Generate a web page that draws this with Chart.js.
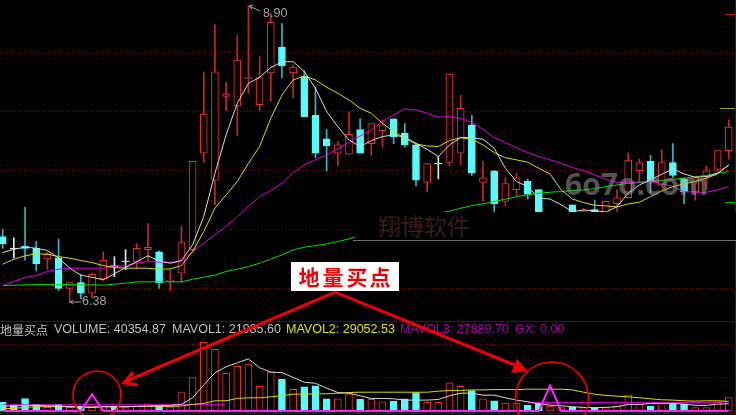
<!DOCTYPE html>
<html>
<head>
<meta charset="utf-8">
<script src="https://cdn.jsdelivr.net/npm/chart.js@4"></script>
<style>
  html, body { margin: 0; background: #000; }
  canvas { display: block; }
</style>
</head>
<body>
<canvas id="myChart" width="736" height="415"></canvas>
<script>
// price candles
const openP = [6.94,6.84,6.86,6.84,6.75,6.76,6.50,6.55,6.46,6.58,6.69,6.73,6.73,6.83,6.81,6.56,6.63,6.83,7.65,7.42,8.13,8.05,8.28,8.06,8.33,8.55,8.33,8.30,7.97,7.77,7.65,7.64,7.85,7.73,7.84,7.94,7.82,7.72,7.40,7.56,7.57,7.65,7.89,7.40,7.50,7.24,7.34,7.41,7.34,7.03,7.04,7.21,7.07,7.17,7.08,7.22,7.27,7.50,7.58,7.38,7.57,7.43,7.32,7.45,7.51,7.67];
const closeP = [6.88,6.84,6.84,6.71,6.79,6.50,6.55,6.46,6.62,6.74,6.69,6.73,6.84,6.85,6.55,6.57,6.89,7.58,7.98,8.34,8.15,8.44,8.29,8.29,8.76,8.39,8.38,7.96,7.65,7.71,7.72,7.81,7.65,7.90,7.89,7.79,7.72,7.42,7.56,7.56,8.32,8.03,7.48,7.44,7.22,7.39,7.44,7.30,7.05,7.07,7.08,7.05,7.16,7.08,7.24,7.27,7.59,7.57,7.41,7.57,7.46,7.32,7.44,7.50,7.67,7.87];
const highP = [7.00,6.93,7.19,6.90,6.81,6.92,6.55,6.62,6.63,6.81,6.77,6.83,6.88,7.05,6.82,6.66,7.03,7.58,8.34,8.74,8.25,8.65,8.90,8.47,8.84,8.75,8.40,8.35,8.21,7.85,7.75,8.00,7.94,7.90,7.93,7.94,7.90,7.73,7.56,7.62,8.32,8.14,7.97,7.58,7.50,7.44,7.48,7.43,7.34,7.11,7.12,7.21,7.18,7.25,7.24,7.34,7.65,7.60,7.63,7.68,7.73,7.44,7.44,7.54,7.67,7.93];
const lowP = [6.84,6.76,6.74,6.65,6.66,6.48,6.38,6.41,6.42,6.57,6.60,6.66,6.67,6.73,6.50,6.48,6.55,6.81,7.57,7.21,8.01,7.80,8.16,8.01,8.09,8.29,8.12,7.96,7.61,7.50,7.54,7.64,7.65,7.63,7.70,7.73,7.70,7.37,7.32,7.43,7.54,7.55,7.46,7.24,7.11,7.20,7.29,7.26,7.03,6.97,6.98,7.00,7.01,7.05,7.05,7.14,7.27,7.40,7.31,7.37,7.44,7.22,7.25,7.34,7.49,7.60];

// price moving averages
const ma1 = [6.805,6.833,6.850,6.842,6.822,6.757,6.672,6.612,6.595,6.573,6.624,6.678,6.728,6.777,6.734,6.714,6.737,6.870,7.110,7.478,7.804,8.073,8.242,8.293,8.376,8.424,8.426,8.342,8.200,8.002,7.875,7.761,7.705,7.756,7.790,7.804,7.784,7.733,7.682,7.620,7.719,7.781,7.781,7.767,7.691,7.521,7.408,7.365,7.266,7.260,7.210,7.153,7.167,7.159,7.150,7.195,7.309,7.379,7.422,7.470,7.515,7.473,7.444,7.450,7.478,7.549];
const ma2 = [6.706,6.748,6.777,6.794,6.791,6.771,6.757,6.737,6.720,6.694,6.678,6.672,6.672,6.672,6.663,6.666,6.694,6.813,6.983,7.181,7.294,7.408,7.563,7.705,7.945,8.143,8.271,8.305,8.271,8.209,8.158,8.101,8.030,7.988,7.903,7.832,7.776,7.727,7.710,7.705,7.756,7.781,7.767,7.719,7.654,7.611,7.592,7.572,7.521,7.473,7.337,7.260,7.229,7.207,7.201,7.193,7.218,7.232,7.280,7.328,7.365,7.388,7.408,7.436,7.473,7.549];
const ma3 = [6.525,6.559,6.593,6.610,6.644,6.663,6.672,6.672,6.672,6.672,6.686,6.694,6.714,6.728,6.723,6.723,6.728,6.813,6.884,6.955,7.026,7.110,7.195,7.280,7.331,7.393,7.484,7.549,7.592,7.634,7.685,7.739,7.795,7.846,7.917,7.974,8.025,8.016,7.988,7.954,7.960,7.945,7.909,7.852,7.781,7.739,7.696,7.654,7.620,7.592,7.563,7.527,7.501,7.464,7.427,7.399,7.399,7.405,7.405,7.393,7.365,7.323,7.317,7.317,7.337,7.365];
const ma4 = [6.525,6.528,6.530,6.533,6.533,6.533,6.533,6.530,6.530,6.528,6.536,6.544,6.556,6.556,6.556,6.556,6.556,6.578,6.595,6.612,6.644,6.663,6.686,6.714,6.748,6.785,6.827,6.850,6.864,6.878,6.898,6.921,6.946,6.983,7.011,7.040,7.068,7.096,7.116,7.139,7.156,7.181,7.204,7.218,7.238,7.258,7.280,7.294,7.309,7.317,7.323,7.331,7.337,7.348,7.365,7.379,7.393,7.399,7.408,7.416,7.427,7.436,7.450,7.459,7.478,7.493];

// volume panel
const volume = [26000,18000,38000,20000,11000,20000,11000,15000,11000,15000,13000,10000,15000,22000,15000,13000,56000,101000,208000,187000,114000,135000,142000,75000,118000,96000,66000,73000,76000,37000,37000,52000,35000,35000,28000,30000,37000,56000,26000,26000,85000,75000,62000,37000,31000,24000,24000,17000,25000,14000,10000,13000,10000,10000,10000,14000,49000,20000,15000,23000,23000,20000,10000,10000,26000,40354.87];
const mavol1 = [15000,15000,17000,17000,16000,15000,13000,12000,11000,13000,13000,13000,14000,15000,16000,17000,20000,40000,79000,116000,134000,146000,158000,131000,118000,116000,102000,87000,84000,69000,56000,54000,46000,38000,38000,37000,33000,33000,33000,35000,46000,54000,54000,48000,48000,40000,33000,28000,21000,18000,16000,13000,11000,10000,11000,13000,20000,20000,23000,23000,23000,21000,17000,17000,21000,21985.60];
const mavol2 = [7000,8000,11000,13000,13000,13000,13000,12000,12000,13000,13000,13000,14000,14000,14000,14000,15000,20000,23000,31000,31000,38000,40000,40000,43000,46000,51000,51000,52000,52000,54000,56000,57000,57000,57000,57000,57000,57000,57000,60000,62000,62000,64000,64000,65000,65000,65000,66000,66000,66000,66000,64000,57000,51000,47000,45000,43000,40000,37000,34000,33000,31000,30000,31000,31000,29052.53];
const mavol3 = [19000,19000,19000,19000,19000,19000,19000,19000,19000,19000,19000,19000,19000,19000,19000,19000,20000,20000,20000,20000,21000,null,null,null,null,null,null,null,null,null,null,null,null,null,null,null,null,null,null,null,null,null,null,null,null,null,null,26000,26000,26000,26000,26000,26000,26000,26000,26000,26000,26000,26000,26000,26000,26000,26000,26000,27000,27889.70];
const gx = [0,0,0,0,0,0,0,0,51000,0,0,0,0,0,0,0,0,0,0,0,0,0,0,0,0,0,0,0,0,0,0,0,0,0,0,0,0,0,0,0,0,0,0,0,0,0,0,0,0,77000,0,0,0,0,0,0,0,0,0,0,0,0,0,0,0,0];

const priceTicks = [6.5, 7, 7.5, 8, 8.5];
const volTicks = [100000, 200000];

const RED = '#f53030', RED_WICK = '#c42828', CYAN = '#54fcfc', CYAN_WICK = '#3ab4bc', WHITE = '#e8e8e8';

const days = openP.map((v, i) => i);
const isDoji = i => openP[i] === closeP[i];
const isUp = i => isDoji(i) ? (i > 0 && closeP[i] >= closeP[i - 1]) : closeP[i] > openP[i];
const dojiDays = days.filter(isDoji);

function series(values) {
  return values.map((v, i) => ({ x: i, y: v }));
}

function lineSet(label, values, color, yAxisID, width) {
  return {
    type: 'line', label: label, data: series(values), yAxisID: yAxisID,
    borderColor: color, borderWidth: width || 1, pointRadius: 0, tension: 0, order: 1
  };
}

function arrow(ctx, x1, y1, x2, y2) {
  ctx.beginPath();
  ctx.moveTo(x1, y1);
  ctx.lineTo(x2, y2);
  ctx.stroke();
}

// everything pasted over the chart: notes, circles, arrows, watermark
const overlay = {
  id: 'overlay',
  afterDraw(chart) {
    const ctx = chart.ctx;
    ctx.save();

    // watermark box hides the chart below it
    ctx.fillStyle = '#000';
    ctx.fillRect(355, 212, 381, 29);
    ctx.fillStyle = '#707070';
    ctx.fillRect(353, 240, 383, 1);

    ctx.textBaseline = 'middle';
    ctx.fillStyle = 'rgba(150,150,150,0.55)';
    ctx.font = 'bold 30px "Open Sans"';
    ctx.fillText('6o7o.com', 565, 186);
    ctx.fillStyle = '#3c1c1c';
    ctx.font = '23px "Noto Sans CJK SC"';
    ctx.fillText('翔博软件', 378, 226);

    // frame
    ctx.fillStyle = '#7a0000';
    ctx.fillRect(735, 0, 1, 212);
    ctx.fillRect(735, 241, 1, 172);
    ctx.fillRect(0, 321, 736, 1);
    ctx.fillRect(0, 413, 736, 1);
    ctx.fillStyle = '#c02020';
    ctx.fillRect(725, 14, 10, 1);
    ctx.fillStyle = '#a0a000';
    ctx.fillRect(720, 108, 15, 1);
    ctx.fillStyle = '#00c000';
    ctx.fillRect(725, 202, 10, 1);

    // high / low notes
    ctx.strokeStyle = '#a0a0a0';
    ctx.lineWidth = 1;
    arrow(ctx, 249, 6, 260, 11);
    arrow(ctx, 249, 6, 253, 5);
    arrow(ctx, 249, 6, 252, 9);
    arrow(ctx, 70, 302, 81, 302);
    arrow(ctx, 70, 302, 73, 300);
    arrow(ctx, 70, 302, 73, 304);
    ctx.fillStyle = '#a0a0a0';
    ctx.font = '12.5px "Liberation Sans"';
    ctx.fillText('8.90', 263, 14);
    ctx.fillText('6.38', 82, 302);

    // volume panel title row
    ctx.fillStyle = '#c0c0c0';
    ctx.font = '12px "Noto Sans CJK SC"';
    ctx.fillText('地量买点', 0, 330);
    ctx.font = '12.5px "Liberation Sans"';
    ctx.fillText('VOLUME: 40354.87', 54, 330);
    ctx.fillText('MAVOL1: 21985.60', 172, 330);
    ctx.fillStyle = '#e0e000';
    ctx.fillText('MAVOL2: 29052.53', 286, 330);
    ctx.fillStyle = '#b000b0';
    ctx.fillText('MAVOL3: 27889.70', 400, 330);
    ctx.fillText('GX: 0.00', 515, 330);

    // red circles
    ctx.strokeStyle = '#f00000';
    ctx.lineWidth = 1.6;
    ctx.beginPath();
    ctx.arc(97, 395, 24, 0, Math.PI * 2);
    ctx.stroke();
    ctx.beginPath();
    ctx.arc(552, 398.5, 36.5, 0, Math.PI * 2);
    ctx.stroke();

    // red arrows
    ctx.lineWidth = 3;
    ctx.lineJoin = 'miter';
    ctx.beginPath();
    ctx.moveTo(124, 382);
    ctx.lineTo(335, 292);
    ctx.lineTo(522, 368);
    ctx.stroke();
    ctx.beginPath();
    ctx.moveTo(133, 372);
    ctx.lineTo(124, 383);
    ctx.lineTo(138, 385);
    ctx.stroke();
    ctx.fillStyle = '#f00000';
    ctx.beginPath();
    ctx.moveTo(528, 371);
    ctx.lineTo(517, 359);
    ctx.lineTo(511, 373);
    ctx.closePath();
    ctx.fill();

    // label box
    ctx.fillStyle = '#fff';
    ctx.fillRect(291, 262, 108, 29);
    ctx.fillStyle = '#f00000';
    ctx.font = 'bold 21px "Noto Sans CJK SC"';
    ctx.textAlign = 'center';
    ctx.fillText('地', 309, 277);
    ctx.fillText('量', 333, 277);
    ctx.fillText('买', 357, 277);
    ctx.fillText('点', 380, 277);

    ctx.restore();
  }
};

const ctx = document.getElementById('myChart').getContext('2d');
const myChart = new Chart(ctx, {
  type: 'bar',
  data: {
    datasets: [
      lineSet('MA1', ma1, '#d8d8d8', 'yPrice'),
      lineSet('MA2', ma2, '#dcdc00', 'yPrice'),
      lineSet('MA3', ma3, '#e000e0', 'yPrice'),
      lineSet('MA4', ma4, '#00e000', 'yPrice'),
      {
        type: 'line', label: 'Doji', yAxisID: 'yPrice', showLine: false,
        data: dojiDays.map(i => ({ x: i, y: closeP[i] })),
        pointStyle: 'line', pointRadius: 4, pointBorderColor: WHITE, pointBorderWidth: 1, order: 2
      },
      {
        label: 'Body', yAxisID: 'yPrice', grouped: false, barThickness: 7, order: 3,
        data: days.map(i => ({ x: i, y: [openP[i], closeP[i]] })),
        backgroundColor: days.map(i => isUp(i) ? '#000' : CYAN),
        borderColor: days.map(i => isUp(i) ? RED : CYAN),
        borderWidth: days.map(i => isDoji(i) ? 0 : 1),
        borderSkipped: false
      },
      {
        label: 'Wick', yAxisID: 'yPrice', grouped: false, barThickness: 1, order: 4,
        data: days.map(i => ({ x: i, y: [lowP[i], highP[i]] })),
        backgroundColor: days.map(i => isDoji(i) ? WHITE : (closeP[i] > openP[i] ? RED_WICK : CYAN_WICK))
      },
      lineSet('GX', gx, '#ff20ff', 'yVol', 2),
      lineSet('MAVOL1', mavol1, '#d8d8d8', 'yVol'),
      lineSet('MAVOL2', mavol2, '#dcdc00', 'yVol'),
      lineSet('MAVOL3', mavol3, '#e000e0', 'yVol'),
      {
        label: 'VOLUME', yAxisID: 'yVol', grouped: false, barThickness: 7, order: 3,
        data: series(volume),
        backgroundColor: days.map(i => isUp(i) ? '#000' : CYAN),
        borderColor: days.map(i => isUp(i) ? RED : CYAN),
        borderWidth: 1,
        borderSkipped: false
      }
    ]
  },
  plugins: [overlay],
  options: {
    responsive: false,
    animation: false,
    layout: { padding: 0, autoPadding: false },
    plugins: { legend: { display: false }, tooltip: { enabled: false } },
    scales: {
      x: { type: 'linear', display: false, offset: false, min: -0.242, max: 65.65 },
      yPrice: {
        type: 'linear', position: 'left', min: 5.425, max: 8.95,
        afterFit: s => { s.width = 0; },
        afterBuildTicks: s => { s.ticks = priceTicks.map(v => ({ value: v })); },
        ticks: { display: false },
        grid: { color: '#8c0000', drawTicks: false },
        border: { display: false, dash: [1, 2] }
      },
      yVol: {
        type: 'linear', position: 'left', min: -12120, max: 1245330,
        afterFit: s => { s.width = 0; },
        afterBuildTicks: s => { s.ticks = volTicks.map(v => ({ value: v })); },
        ticks: { display: false },
        grid: { color: '#8c0000', drawTicks: false },
        border: { display: false, dash: [1, 2] }
      }
    }
  }
});
</script>
</body>
</html>
